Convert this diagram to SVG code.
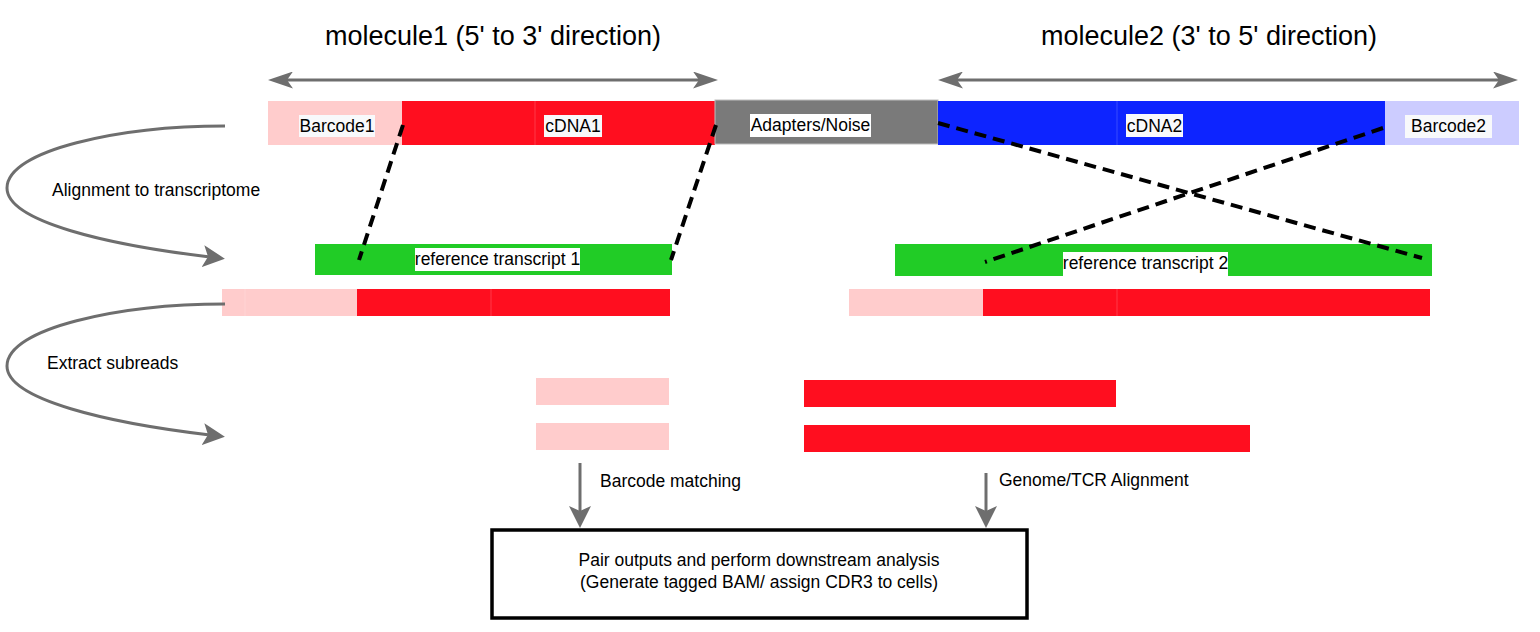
<svg xmlns="http://www.w3.org/2000/svg" width="1540" height="632" viewBox="0 0 1540 632">
<style>
  text { font-family: "Liberation Sans", Arial, sans-serif; fill: #000; }
  .title { font-size: 27px; text-anchor: middle; }
  .lbl { font-size: 17.5px; text-anchor: middle; }
  .note { font-size: 17.5px; }
  .tag { fill: #F8F9FB; }
  .shaft { fill: none; stroke: #6E6E6E; stroke-width: 3; }
  .dash { fill: none; stroke: #000; stroke-width: 4; stroke-dasharray: 12 7; }
  .seam { stroke: #FFFFFF; stroke-opacity: 0.18; stroke-width: 1; }
  .pink { fill: #FFCCCC; }
  .red { fill: #FF0E1F; }
  .green { fill: #21CC26; }
</style>
<defs>
  <marker id="dbl" viewBox="0 0 25 17" refX="6" refY="8.5" markerWidth="25" markerHeight="17" markerUnits="userSpaceOnUse" orient="auto-start-reverse">
    <path d="M0,0 L25,8.5 L0,17 L6,8.5 Z" fill="#6E6E6E"/>
  </marker>
  <marker id="head" viewBox="0 0 22 22" refX="5" refY="11" markerWidth="22" markerHeight="22" markerUnits="userSpaceOnUse" orient="auto">
    <path d="M0,0 L22,11 L0,22 L5,11 Z" fill="#6E6E6E"/>
  </marker>
</defs>
<rect width="1540" height="632" fill="#FFFFFF"/>

<text class="title" x="493" y="45">molecule1 (5' to 3' direction)</text>
<text class="title" x="1209" y="45">molecule2 (3' to 5' direction)</text>

<g id="barcode1">
  <rect class="pink" x="268" y="101" width="134" height="44"/>
  <rect class="tag" x="299" y="115" width="76" height="22"/>
  <text class="lbl" x="337" y="132">Barcode1</text>
</g>
<g id="cdna1">
  <rect class="red" x="402" y="101" width="313" height="44"/>
  <line class="seam" x1="535" y1="101" x2="535" y2="145"/>
  <rect class="tag" x="544" y="115" width="58" height="22"/>
  <text class="lbl" x="573" y="132">cDNA1</text>
</g>
<g id="adapters">
  <rect x="715" y="100" width="223" height="44" fill="#7A7A7A" stroke="#BDBDBD" stroke-width="1"/>
  <rect fill="#FFFFFF" x="750" y="114" width="121" height="23"/>
  <text class="lbl" x="810.5" y="131">Adapters/Noise</text>
</g>
<g id="cdna2">
  <rect x="938" y="101" width="447" height="44" fill="#0D24FF"/>
  <line class="seam" x1="1117" y1="101" x2="1117" y2="145"/>
  <rect class="tag" x="1126" y="114" width="57" height="23"/>
  <text class="lbl" x="1154.5" y="132">cDNA2</text>
</g>
<g id="barcode2">
  <rect x="1385" y="101" width="134" height="44" fill="#CCCCFF"/>
  <rect class="tag" x="1405" y="115" width="87" height="23"/>
  <text class="lbl" x="1448.5" y="132">Barcode2</text>
</g>

<g id="ref1">
  <rect class="green" x="315" y="244" width="357" height="31"/>
  <rect fill="#FFFFFF" x="415" y="248" width="165" height="23"/>
  <text class="lbl" x="497.5" y="265">reference transcript 1</text>
</g>
<g id="ref2">
  <rect class="green" x="895" y="244" width="537" height="32"/>
  <rect fill="#FFFFFF" x="1063" y="252" width="165" height="24"/>
  <text class="lbl" x="1145.5" y="269">reference transcript 2</text>
</g>

<g id="read1">
  <rect class="pink" x="222" y="289" width="135" height="27"/>
  <line class="seam" x1="245" y1="289" x2="245" y2="316"/>
  <rect class="red" x="357" y="289" width="313" height="27"/>
  <line class="seam" x1="491" y1="289" x2="491" y2="316"/>
</g>
<g id="read2">
  <rect class="pink" x="849" y="289" width="134" height="27"/>
  <rect class="red" x="983" y="289" width="447" height="27"/>
  <line class="seam" x1="1117" y1="289" x2="1117" y2="316"/>
</g>

<g id="sub-barcode">
  <rect class="pink" x="536" y="378" width="133" height="27"/>
  <rect class="pink" x="536" y="423" width="133" height="27"/>
</g>
<g id="sub-cdna">
  <rect class="red" x="804" y="380" width="312" height="27"/>
  <rect class="red" x="804" y="425" width="446" height="27"/>
</g>

<g id="final">
  <rect x="492" y="530" width="535" height="88" fill="#FFFFFF" stroke="#000" stroke-width="3.5"/>
  <text class="lbl" x="759" y="566">Pair outputs and perform downstream analysis</text>
  <text class="lbl" x="759" y="588"> (Generate tagged BAM/ assign CDR3 to cells)</text>
</g>

<g id="connectors">
  <line class="shaft" x1="287" y1="80" x2="699" y2="80" marker-start="url(#dbl)" marker-end="url(#dbl)"/>
  <line class="shaft" x1="957" y1="80" x2="1499" y2="80" marker-start="url(#dbl)" marker-end="url(#dbl)"/>
  <path class="shaft" d="M225,126 C120,126 7,150 7,188 C7,222 110,245 208,256.7" marker-end="url(#head)"/>
  <path class="shaft" d="M225,304 C120,304 7,328 7,366 C7,400 110,423 208,434.7" marker-end="url(#head)"/>
  <line class="shaft" x1="580" y1="463" x2="580" y2="511" marker-end="url(#head)"/>
  <line class="shaft" x1="986" y1="473" x2="986" y2="511" marker-end="url(#head)"/>
  <line class="dash" x1="403" y1="125" x2="359" y2="260"/>
  <line class="dash" x1="716" y1="125" x2="671" y2="260"/>
  <line class="dash" x1="938" y1="123" x2="1422" y2="258"/>
  <line class="dash" x1="1383" y1="128" x2="985" y2="262"/>
</g>

<text class="note" x="52" y="196">Alignment to transcriptome</text>
<text class="note" x="47" y="369">Extract subreads</text>
<text class="note" x="600" y="487">Barcode matching</text>
<text class="note" x="999" y="486">Genome/TCR Alignment</text>
</svg>
